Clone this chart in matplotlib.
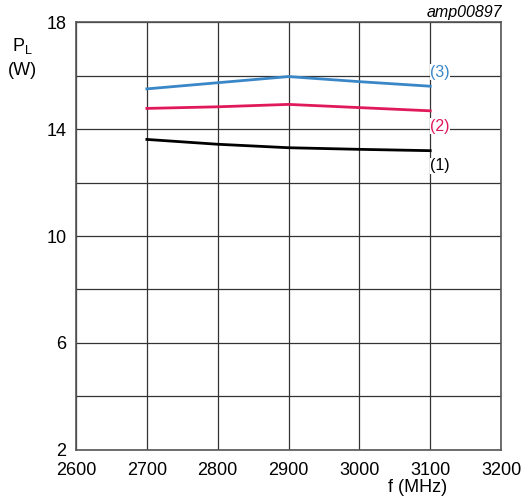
import matplotlib.pyplot as plt

# frequency (MHz) and load power (W) for three curves
freq = [2700, 2800, 2900, 3000, 3100]
pl_1 = [13.61, 13.43, 13.30, 13.24, 13.19]
pl_2 = [14.77, 14.83, 14.92, 14.80, 14.68]
pl_3 = [15.50, 15.73, 15.96, 15.77, 15.60]
curve_labels = ['(1)', '(2)', '(3)']
label_y = [12.62, 14.1, 16.12]

x_ticks = [2600, 2700, 2800, 2900, 3000, 3100, 3200]
y_ticks = [2, 6, 10, 14, 18]

plt.rcParams['font.family'] = ['Liberation Sans', 'DejaVu Sans']

fig = plt.figure(figsize=(5.25, 4.98), dpi=100)
ax = fig.add_axes([0.1448, 0.0964, 0.8096, 0.8594])

colors = ['black', '#e0195a', '#3a87c8']
for ys, c in zip([pl_1, pl_2, pl_3], colors):
    ax.plot(freq, ys, color=c, lw=2, zorder=3)

for lab, ly, c in zip(curve_labels, label_y, colors):
    ax.text(3100, ly, lab, color=c, fontsize=11.5, ha='left', va='center',
            zorder=4, bbox=dict(facecolor='white', edgecolor='none', pad=0.5))

ax.set_xlim(2600, 3200)
ax.set_ylim(2, 18)
ax.set_xticks(x_ticks)
ax.set_yticks(range(2, 19, 2))
ax.set_yticklabels([str(v) if v in y_ticks else '' for v in range(2, 19, 2)])
ax.tick_params(length=0, labelsize=13)
ax.tick_params(axis='y', pad=7)
ax.tick_params(axis='x', pad=9)
ax.grid(True, color='#333333', lw=0.9)
for s in ax.spines.values():
    s.set_color('#555555')
    s.set_linewidth(1.2)

fig.text(0.042, 0.908, 'P$_\\mathregular{L}$', fontsize=13, ha='center', va='center')
fig.text(0.042, 0.859, '(W)', fontsize=13, ha='center', va='center')
fig.text(0.795, 0.022, 'f (MHz)', fontsize=13, ha='center', va='center')
fig.text(0.956, 0.975, 'amp00897', fontsize=11.5, style='italic', ha='right', va='center')

fig.savefig('out.png', dpi=100)
